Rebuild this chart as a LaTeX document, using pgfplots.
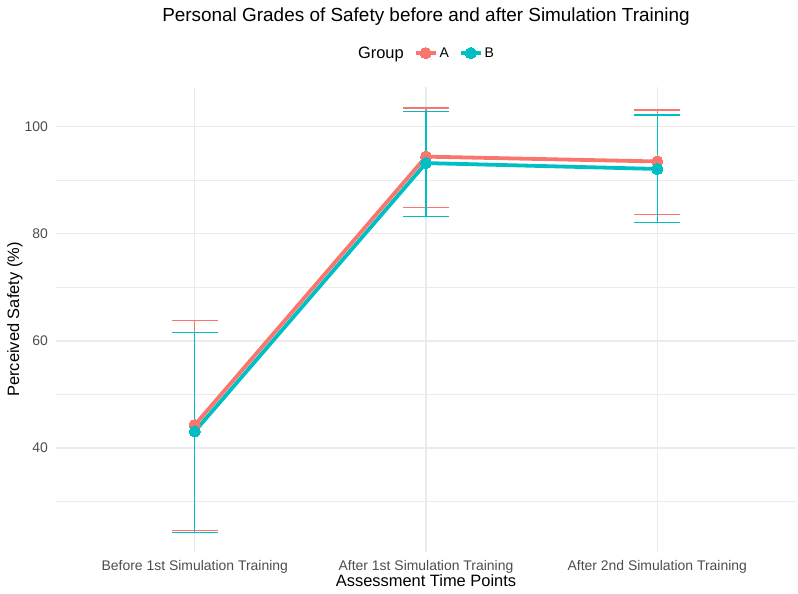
\documentclass[border=0pt]{standalone}
\usepackage{fontspec}
\setmainfont{Liberation Sans}
\usepackage{pgfplots}
\pgfplotsset{compat=1.18}
\definecolor{cA}{HTML}{F8766D}
\definecolor{cB}{HTML}{00BFC4}
\definecolor{gridc}{HTML}{EBEBEB}
\definecolor{tickc}{HTML}{4D4D4D}
\begin{document}
\begin{tikzpicture}
\path[use as bounding box] (-56bp,-42bp) rectangle (742bp,552bp);
\begin{axis}[
  at={(0,0)}, anchor=south west,
  scale only axis, width=740bp, height=465bp,
  xmin=0.4, xmax=3.6, ymin=20.6, ymax=107.4,
  xtick={1,2,3},
  xticklabels={Before 1st Simulation Training, After 1st Simulation Training, After 2nd Simulation Training},
  ytick={40,60,80,100}, minor ytick={30,50,70,90},
  xmajorgrids=true, ymajorgrids=true, yminorgrids=true,
  major grid style={gridc, line width=1.2bp},
  minor grid style={gridc, line width=0.6bp},
  axis line style={draw=none},
  major tick length=0pt, minor tick length=0pt,
  /pgf/number format/assume math mode=true,
  tick label style={font=\fontsize{14}{16}\selectfont, text=tickc},
  xticklabel style={anchor=north, inner sep=0pt, yshift=-8bp},
  yticklabel style={anchor=east, inner sep=0pt, xshift=-8bp},
  xlabel={Assessment Time Points},
  ylabel={Perceived Safety (\%)},
  label style={font=\fontsize{16.5}{19}\selectfont},
  xlabel style={at={(axis description cs:0.5,-0.0473)}, anchor=north, inner sep=0pt},
  ylabel style={at={(axis description cs:-0.0554,0.5)}, anchor=center, inner sep=0pt},
  title={Personal Grades of Safety before and after Simulation Training},
  title style={at={(axis description cs:0.5,1.159)}, anchor=north, inner sep=0pt, font=\fontsize{19}{22}\selectfont},
  legend columns=-1,
  legend style={at={(axis description cs:0.5,1.073)}, anchor=center, draw=none, fill=none,
    font=\fontsize{14}{16}\selectfont,
    /tikz/every even column/.append style={column sep=8bp}},
  legend image code/.code={\draw[mark repeat=2, mark phase=2, #1] plot coordinates {(0bp,0bp) (10bp,0bp) (20bp,0bp)};},
]
% error bars (mean, +upper, -lower)
\addplot[forget plot, color=cA, draw=none, mark=none,
  error bars/.cd, y dir=both, y explicit,
  error bar style={color=cA, line width=1.3bp},
  error mark options={rotate=90, color=cA, line width=1.3bp, mark size=23bp}]
  coordinates {(1,44.3) += (0,19.5) -= (0,19.7)
               (2,94.4) += (0,9.1) -= (0,9.5)
               (3,93.5) += (0,9.6) -= (0,9.9)};
\addplot[forget plot, color=cB, draw=none, mark=none,
  error bars/.cd, y dir=both, y explicit,
  error bar style={color=cB, line width=1.3bp},
  error mark options={rotate=90, color=cB, line width=1.3bp, mark size=23bp}]
  coordinates {(1,43.1) += (0,18.5) -= (0,18.8)
               (2,93.2) += (0,9.6) -= (0,10.0)
               (3,92.1) += (0,10.1) -= (0,10.0)};
\addlegendimage{empty legend}
\addlegendentry{\fontsize{16.5}{19}\selectfont Group}
\addplot[cA, line width=3.8bp, mark=*, mark size=5.6bp, mark options={solid, fill=cA, draw=cA, line width=0pt}]
  coordinates {(1,44.3) (2,94.4) (3,93.5)};
\addlegendentry{A}
\addplot[cB, line width=3.8bp, mark=*, mark size=5.6bp, mark options={solid, fill=cB, draw=cB, line width=0pt}]
  coordinates {(1,43.1) (2,93.2) (3,92.1)};
\addlegendentry{B}
\end{axis}
\end{tikzpicture}
\end{document}
